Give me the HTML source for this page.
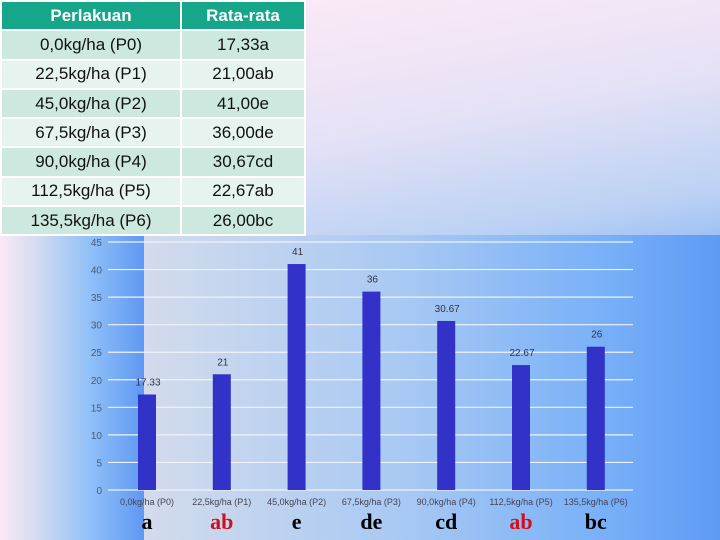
<!DOCTYPE html>
<html><head><meta charset="utf-8"><style>
*{margin:0;padding:0;box-sizing:border-box}
body{width:720px;height:540px;position:relative;overflow:hidden;font-family:"Liberation Sans",sans-serif;
background:linear-gradient(135deg,#f7eaf7 0%,#e6e2f6 35%,#a9c9f6 70%,#5f98f3 100%)}
#leftband{position:absolute;left:0;top:235px;width:144px;height:305px;background:linear-gradient(to right,#fce9f6 0,#cfdaf0 40px,#90c0f8 90px,#5f98f3 144px)}
#panel{position:absolute;left:144px;top:235px;width:576px;height:305px;background:linear-gradient(to right,#d3dbec 0%,#a8c9f3 45%,#78b0f8 80%,#5f9af5 100%)}
#topright{position:absolute;left:305px;top:0;width:415px;height:235px;background:linear-gradient(170deg,#fbe9f6 0%,#e6e2f6 45%,#bcd2f4 85%,#9fc2f4 100%)}
table{position:absolute;left:0;top:0;width:306px;border-collapse:collapse;font-size:17px;z-index:2}
td,th{height:29.3px;text-align:center;border:2px solid #fff;color:#111}
th{background:#16a68a;color:#fff;font-weight:bold;font-size:17px}
tr.o td{background:#cde9df}tr.e td{background:#e6f3ee}
td:first-child,th:first-child{width:180px}
svg{position:absolute;left:0;top:0}
</style></head><body>
<div id="leftband"></div>
<div id="panel"></div>
<div id="topright"></div>
<table>
<tr><th>Perlakuan</th><th>Rata-rata</th></tr>
<tr class="o"><td>0,0kg/ha (P0)</td><td>17,33a</td></tr>
<tr class="e"><td>22,5kg/ha (P1)</td><td>21,00ab</td></tr>
<tr class="o"><td>45,0kg/ha (P2)</td><td>41,00e</td></tr>
<tr class="e"><td>67,5kg/ha (P3)</td><td>36,00de</td></tr>
<tr class="o"><td>90,0kg/ha (P4)</td><td>30,67cd</td></tr>
<tr class="e"><td>112,5kg/ha (P5)</td><td>22,67ab</td></tr>
<tr class="o"><td>135,5kg/ha (P6)</td><td>26,00bc</td></tr>
</table>
<svg id="chart" width="720" height="540"></svg>
<script>
const categories=["0,0kg/ha (P0)","22,5kg/ha (P1)","45,0kg/ha (P2)","67,5kg/ha (P3)","90,0kg/ha (P4)","112,5kg/ha (P5)","135,5kg/ha (P6)"];
const values=[17.33,21,41,36,30.67,22.67,26];
const valueLabels=["17.33","21","41","36","30.67","22.67","26"];
const letters=["a","ab","e","de","cd","ab","bc"];
const letterRed=[false,true,false,false,false,true,false];
const yTicks=[0,5,10,15,20,25,30,35,40,45];
const svg=document.getElementById('chart');const NS="http://www.w3.org/2000/svg";
const y0=490,y1=242,yMax=45;
function y(v){return y0-(v/yMax)*(y0-y1);}
function x(i){return 147+i*74.8;}
function mk(t,a,txt){const e=document.createElementNS(NS,t);for(const k in a)e.setAttribute(k,a[k]);if(txt!=null)e.textContent=txt;svg.appendChild(e);return e;}
yTicks.forEach(t=>{
 const l=mk('line',{x1:108,x2:633,y1:y(t),y2:y(t),stroke:'#eef3fb','stroke-width':1.2});
 
 
 const tx=mk('text',{x:102,y:y(t)+4,'text-anchor':'end','font-size':10,fill:'#4a5a78'},t);
 
 
});
values.forEach((v,i)=>{
 const b=mk('rect',{x:x(i)-9,y:y(v),width:18,height:y0-y(v),fill:'#3232c8'});
 
 
 const vl=mk('text',{x:x(i)+1,y:y(v)-9,'text-anchor':'middle','font-size':10,fill:'#334'},valueLabels[i]);
 
 
 const cl=mk('text',{x:x(i)+0,y:505,'text-anchor':'middle','font-size':9,fill:'#445'},categories[i]);
 
 
 const lt=mk('text',{x:x(i)+0,y:529,'text-anchor':'middle','font-size':22,'font-weight':'bold','font-family':'Liberation Serif, serif',fill:letterRed[i]?'#d0101c':'#000'},letters[i]);
 
 
});
</script>
</body></html>
